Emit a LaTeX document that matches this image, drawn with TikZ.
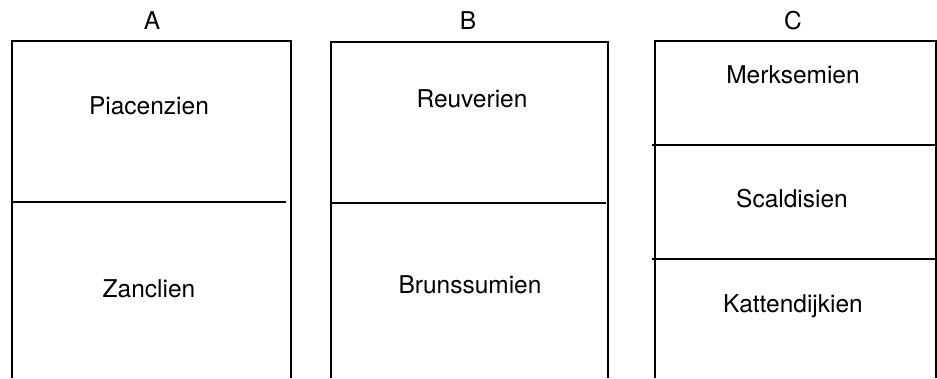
\documentclass[tikz,border=0pt]{standalone}
\usepackage{fontspec}
\setmainfont{TeX Gyre Heros}
\usepackage{tikz}

\begin{document}
\begin{tikzpicture}[x=1pt, y=-1pt, line width=1.5pt,
        stage/.style={anchor=base, inner sep=0pt, font=\fontsize{24.5}{28}\selectfont}]
        \useasboundingbox (0, 0) rectangle (937, 378);

        % column A
        \draw (12, 378) -- (12, 41) -- (291, 41) -- (291, 378);
        \draw (12, 202) -- (286, 202);
        % column B
        \draw (331, 378) -- (331, 42) -- (608, 42) -- (608, 378);
        \draw (331, 203) -- (606, 203);
        % column C
        \draw (655, 378) -- (655, 41) -- (936, 41) -- (936, 378);
        \draw (652, 145) -- (937, 145);
        \draw (652, 259) -- (937, 259);

        \node[stage] (headA) at (152, 29) {A};
        \node[stage] (headB) at (468, 29) {B};
        \node[stage] (headC) at (793, 29) {C};

        \node[stage] (piacenzien) at (149, 114) {Piacenzien};
        \node[stage] (zanclien) at (149, 297) {Zanclien};
        \node[stage] (reuverien) at (472, 107) {Reuverien};
        \node[stage] (brunssumien) at (470, 293) {Brunssumien};
        \node[stage] (merksemien) at (793, 83) {Merksemien};
        \node[stage] (scaldisien) at (792, 207) {Scaldisien};
        \node[stage] (kattendijkien) at (793, 312) {Kattendijkien};
\end{tikzpicture}
\end{document}
